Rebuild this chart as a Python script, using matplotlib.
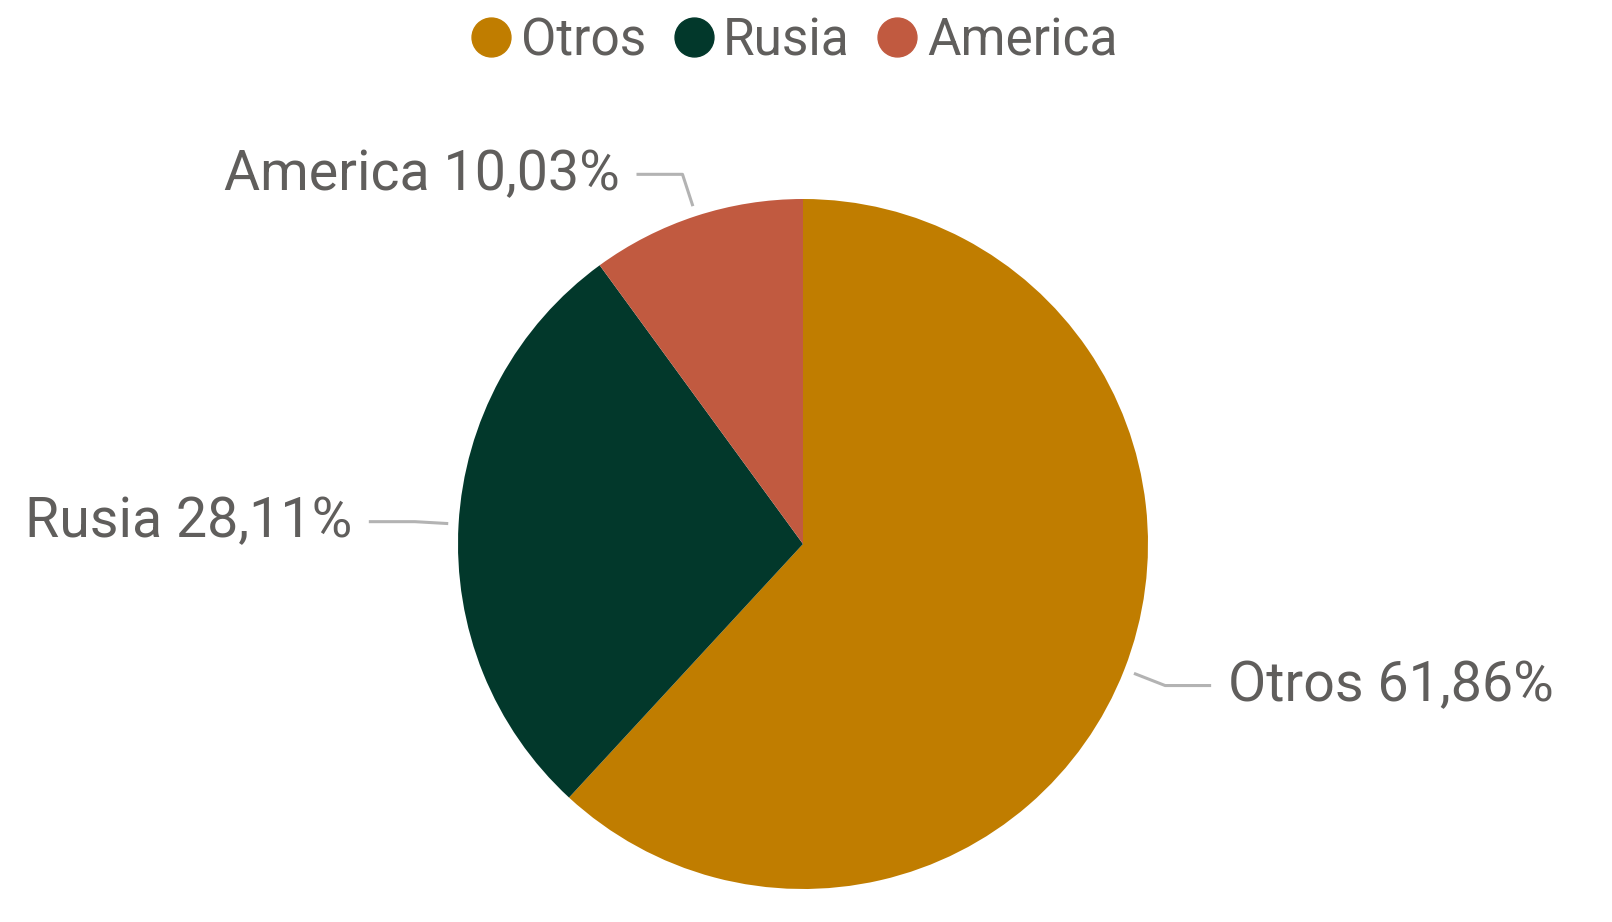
import numpy as np
import matplotlib.pyplot as plt
from matplotlib.lines import Line2D

# data
labels = ['Otros', 'Rusia', 'America']
values = [61.86, 28.11, 10.03]
colors = ['#C07D00', '#02382B', '#C15A40']

text_color = '#605E5C'
line_color = '#B3B3B3'
plt.rcParams['font.family'] = ['Roboto', 'DejaVu Sans']

fig = plt.figure(figsize=(16.12, 9.22), dpi=100)
ax = fig.add_axes([0, 0, 1, 1])

cx, cy, r = 803, 922 - 544, 345
wedges, _ = ax.pie(values, colors=colors, startangle=90, counterclock=False,
                   center=(cx, cy), radius=r, frame=True,
                   wedgeprops=dict(linewidth=0))
ax.set_xlim(0, 1612)
ax.set_ylim(0, 922)
ax.set_aspect('equal')
ax.axis('off')

# leader lines and data labels
for w, lab, val in zip(wedges, labels, values):
    ang = np.deg2rad((w.theta1 + w.theta2) / 2)
    x0, y0 = cx + 1.03 * r * np.cos(ang), cy + 1.03 * r * np.sin(ang)
    x1, y1 = cx + 1.127 * r * np.cos(ang), cy + 1.127 * r * np.sin(ang)
    side = 1 if np.cos(ang) >= 0 else -1
    x2 = x1 + side * 46
    ax.plot([x0, x1, x2], [y0, y1, y1], color=line_color, lw=2.2,
            solid_capstyle='butt')
    txt = f"{lab} {val:.2f}%".replace('.', ',')
    ax.text(x2 + side * 17, y1, txt, ha='left' if side > 0 else 'right',
            va='center', fontsize=40, color=text_color)

# legend
handles = [Line2D([], [], marker='o', linestyle='none', markersize=28,
                  markerfacecolor=c, markeredgecolor=c) for c in colors]
leg = fig.legend(handles, labels, loc='center', bbox_to_anchor=(0.493, 1 - 41 / 922),
                 ncol=3, frameon=False, fontsize=37, handlelength=0.75,
                 handletextpad=0.2, columnspacing=0.55, borderaxespad=0,
                 borderpad=0)
for t in leg.get_texts():
    t.set_color(text_color)

fig.savefig('out.png', dpi=100)
